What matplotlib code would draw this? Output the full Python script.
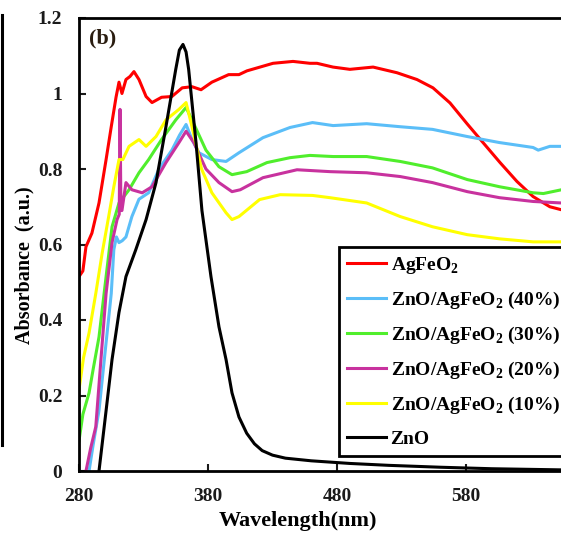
import matplotlib

matplotlib.use("Agg")

import matplotlib.pyplot as plt  # noqa: E402
from matplotlib.lines import Line2D  # noqa: E402
from matplotlib.ticker import FormatStrFormatter  # noqa: E402

plt.rcParams["font.family"] = ["Liberation Serif", "DejaVu Serif"]
plt.rcParams["font.weight"] = "bold"
plt.rcParams["mathtext.fontset"] = "custom"
plt.rcParams["mathtext.rm"] = "Liberation Serif:bold"
plt.rcParams["mathtext.bf"] = "Liberation Serif:bold"

# wavelength (nm) / absorbance (a.u.)
wl_agfeo2 = [280, 283, 285.4, 290, 295.5, 301, 305, 308.7, 311, 313.3,
             316.4, 319.5, 322.6, 326.5, 332, 336.6, 344, 352, 360, 367.6,
             374.6, 383, 396, 404, 410.2, 420.3, 430.4, 445.9, 459, 464.5,
             476.9, 490, 508, 526.5, 542, 554.4, 567.6, 580.8, 593.2, 606.4,
             619.5, 632, 645, 654]
abs_agfeo2 = [0.515, 0.53, 0.594, 0.63, 0.71, 0.825, 0.912, 0.99, 1.03, 1.0,
              1.037, 1.045, 1.058, 1.037, 0.992, 0.976, 0.99, 0.992, 1.015, 1.018,
              1.01, 1.03, 1.05, 1.05, 1.06, 1.07, 1.08, 1.085, 1.08, 1.08,
              1.07, 1.064, 1.07, 1.055, 1.037, 1.015, 0.975, 0.92, 0.87, 0.817,
              0.767, 0.727, 0.70, 0.692]

wl_40 = [287.8, 291, 295.5, 301, 305, 307, 309, 311, 313.5, 316.4,
         321, 326.5, 334, 342, 352, 358, 363, 367.6, 373, 383,
         394, 404, 422.6, 443.6, 461, 477, 503, 529, 554, 581,
         606, 632, 636, 645, 654]
abs_40 = [0.0, 0.07, 0.16, 0.34, 0.47, 0.586, 0.62, 0.605, 0.61, 0.62,
          0.674, 0.72, 0.737, 0.8, 0.85, 0.89, 0.918, 0.878, 0.843, 0.825,
          0.82, 0.843, 0.883, 0.91, 0.923, 0.915, 0.92, 0.912, 0.905, 0.886,
          0.87, 0.857, 0.85, 0.86, 0.86]

wl_30 = [280, 283, 287.8, 291, 295.5, 301, 305.6, 311, 318.8, 326.5,
         334, 344, 355, 363, 367.6, 378.4, 388.5, 398.6, 410, 425.7,
         443.6, 459, 477, 503, 529, 554, 581, 606, 632, 640,
         654]
abs_30 = [0.08, 0.15, 0.207, 0.27, 0.355, 0.515, 0.647, 0.71, 0.745, 0.79,
          0.825, 0.878, 0.93, 0.963, 0.93, 0.85, 0.806, 0.785, 0.793, 0.817,
          0.83, 0.836, 0.833, 0.833, 0.82, 0.803, 0.772, 0.753, 0.737, 0.735,
          0.745]

wl_20 = [285.4, 289, 293, 297, 301, 305.6, 309.5, 311.2, 311.8, 312.5,
         313.3, 316.4, 321, 329, 336.6, 347.4, 357.5, 363, 369, 378.4,
         388.5, 398.6, 405, 422.6, 449, 474.6, 503, 529, 554, 581,
         606, 632, 654]
abs_20 = [0.0, 0.06, 0.117, 0.295, 0.47, 0.605, 0.666, 0.68, 0.958, 0.69,
          0.69, 0.764, 0.745, 0.737, 0.753, 0.817, 0.87, 0.9, 0.87, 0.8,
          0.764, 0.74, 0.745, 0.777, 0.798, 0.793, 0.79, 0.78, 0.764, 0.74,
          0.724, 0.714, 0.71]

wl_10 = [280, 283.5, 287.8, 293, 298, 303, 307, 311, 314, 318.8,
         326.5, 332, 339.7, 347.4, 357.5, 363, 367.6, 375, 383, 394,
         398.6, 404, 420, 436, 461, 474.6, 503, 529, 554, 581,
         606, 632, 654]
abs_10 = [0.215, 0.3, 0.366, 0.47, 0.578, 0.674, 0.753, 0.825, 0.825, 0.86,
          0.878, 0.86, 0.886, 0.93, 0.958, 0.976, 0.912, 0.8, 0.737, 0.684,
          0.666, 0.674, 0.719, 0.732, 0.73, 0.724, 0.71, 0.674, 0.647, 0.626,
          0.615, 0.607, 0.607]

wl_zno = [295.5, 301, 305.6, 311, 316.4, 324, 332, 339.7, 347.4, 355,
          357.8, 360.6, 363, 365, 370.7, 375.3, 382.3, 388.5, 394, 398.6,
          404, 410, 416, 422, 430, 440, 460, 490, 520, 560,
          600, 654]
abs_zno = [0.0, 0.16, 0.295, 0.42, 0.515, 0.586, 0.666, 0.764, 0.912, 1.064,
           1.115, 1.13, 1.11, 1.064, 0.87, 0.69, 0.515, 0.382, 0.295, 0.207,
           0.143, 0.1, 0.072, 0.054, 0.042, 0.034, 0.027, 0.02, 0.015, 0.01,
           0.006, 0.003]

series = [
    (wl_agfeo2, abs_agfeo2, "#ff0000", r"AgFeO$_\mathbf{2}$"),
    (wl_40, abs_40, "#5bbef8", r"ZnO/AgFeO$_\mathbf{2}$ (40%)"),
    (wl_30, abs_30, "#50ee2c", r"ZnO/AgFeO$_\mathbf{2}$ (30%)"),
    (wl_20, abs_20, "#c8329e", r"ZnO/AgFeO$_\mathbf{2}$ (20%)"),
    (wl_10, abs_10, "#ffff00", r"ZnO/AgFeO$_\mathbf{2}$ (10%)"),
    (wl_zno, abs_zno, "#000000", "ZnO"),
]

fig = plt.figure(figsize=(5.61, 5.38), dpi=100)
ax = fig.add_axes([79 / 561, 1 - 471 / 538, 1 - 79 / 561, (471 - 18) / 538])

for x, y, c, lab in series:
    ax.plot(x, y, color=c, lw=2.2, label=lab)

ax.set_xlim(280, 280 + (561 - 79) / 1.29)
ax.set_ylim(0, 1.2)
ax.set_xticks([280, 380, 480, 580])
ax.set_yticks([0, 0.2, 0.4, 0.6, 0.8, 1.0, 1.2])
ax.yaxis.set_major_formatter(FormatStrFormatter("%g"))
ax.tick_params(direction="in", length=5, width=1.5, labelsize=14,
               colors="#1a1a1a", pad=12)
for s in ["left", "bottom", "top"]:
    ax.spines[s].set_linewidth(2)
ax.spines["right"].set_visible(False)

ax.set_xlabel("Wavelength(nm)", fontsize=16, fontweight="bold")
ax.xaxis.set_label_coords(0.454, -0.088)
ax.set_ylabel("Absorbance  (a.u.)", fontsize=14.5, fontweight="bold")
ax.yaxis.set_label_coords(-0.092, 0.455)
ax.text(0.02, 0.954, "(b)", transform=ax.transAxes, fontsize=16,
        va="center", ha="left", color="#2a1d10")

leg = ax.legend(loc="upper left", bbox_to_anchor=(339 / 561, 1 - 247 / 538),
                bbox_transform=fig.transFigure, borderaxespad=0, fontsize=14,
                handlelength=2.0, handletextpad=0.25, labelspacing=0.72,
                borderpad=0.4, fancybox=False, framealpha=1)
leg.get_frame().set_edgecolor("black")
leg.get_frame().set_linewidth(2)

# edge of the neighbouring panel, cut off at the left
fig.add_artist(Line2D([1.5 / 561, 1.5 / 561], [1 - 15 / 538, 1 - 445 / 538],
                      color="black", lw=2.2))

fig.savefig("out.png", dpi=100)
plt.close(fig)
